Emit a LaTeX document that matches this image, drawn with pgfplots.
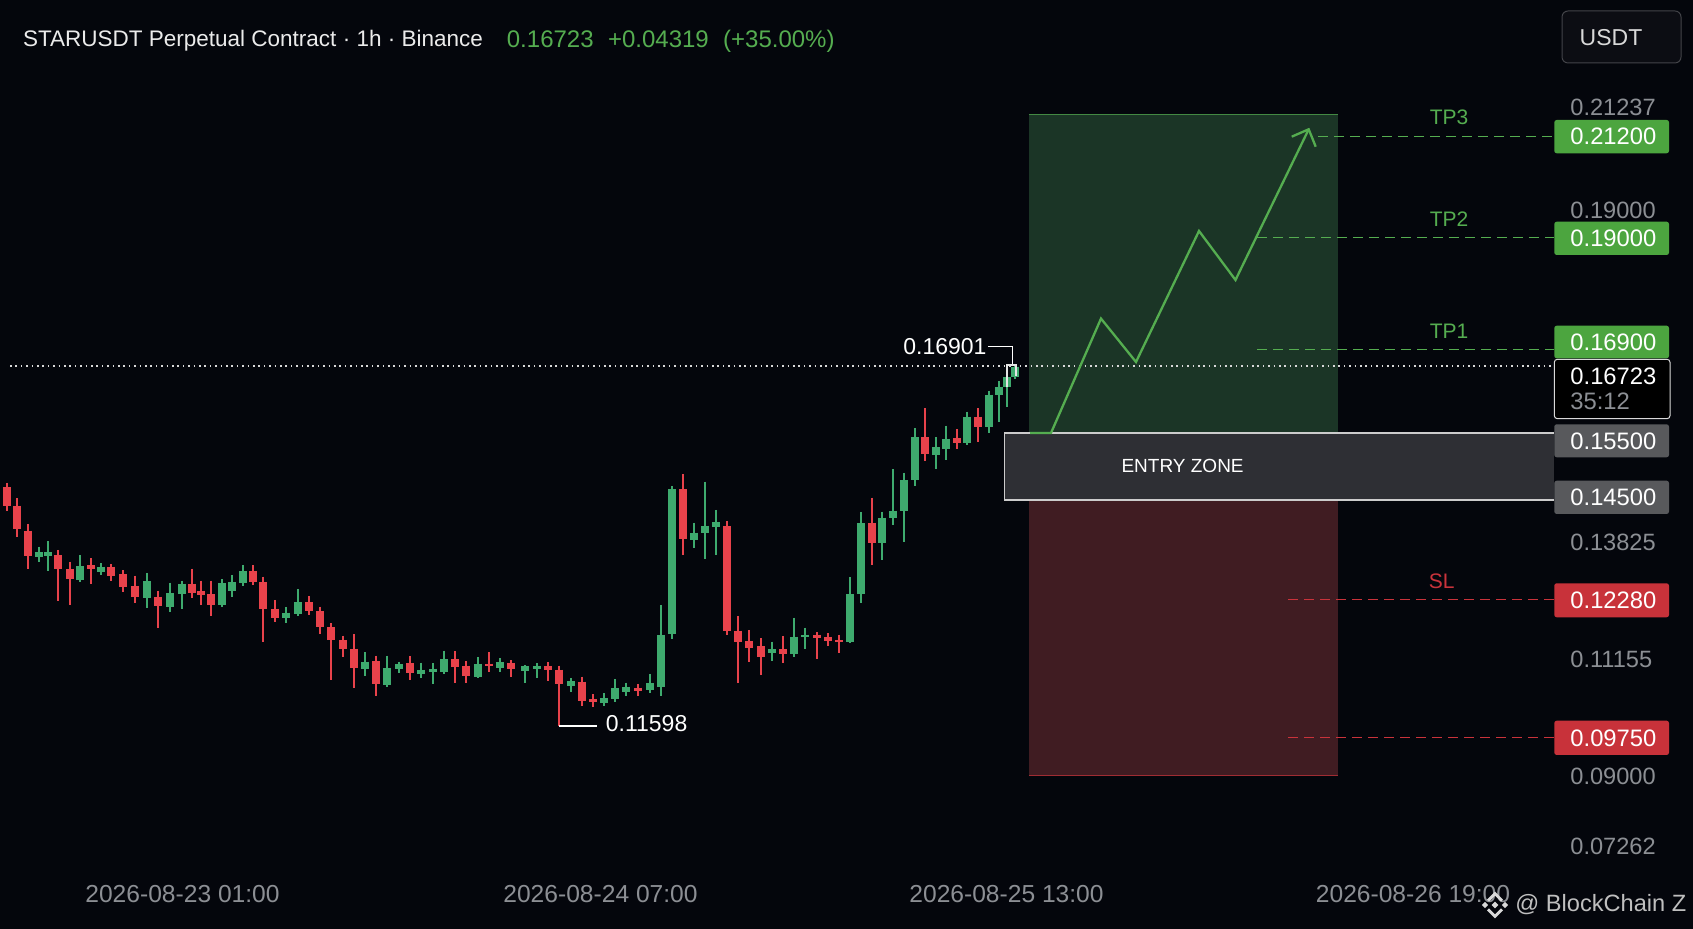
\documentclass[border=0pt]{standalone}
\usepackage{pgfplots}
\usepackage{pgfplotstable}
\usepackage{fontspec}
\setmainfont{Liberation Sans}
\pgfplotsset{compat=1.18}
\definecolor{bg}{HTML}{04060C}
\definecolor{cr}{HTML}{E8424B}
\definecolor{cg}{HTML}{3EAA6E}
\definecolor{lg}{HTML}{55AD50}
\definecolor{lr}{HTML}{C9333B}
\definecolor{tagg}{HTML}{4CA53F}
\definecolor{tagr}{HTML}{C8323A}
\definecolor{tagn}{HTML}{58595C}
\definecolor{gt}{HTML}{8C8F94}
\definecolor{zg}{HTML}{1B3526}
\definecolor{zr}{HTML}{401C22}
\pgfplotstableread{
x h t b l
6.7 0.14347 0.14253 0.13887 0.13787
17.3 0.14033 0.13887 0.13420 0.13267
28.3 0.13520 0.13387 0.12880 0.12627
58.3 0.13000 0.12900 0.12620 0.11987
69.7 0.12767 0.12620 0.12427 0.11900
91 0.12833 0.12693 0.12627 0.12320
111 0.12720 0.12667 0.12487 0.12373
123.3 0.12600 0.12513 0.12267 0.12167
134.7 0.12487 0.12280 0.12060 0.11933
158 0.12187 0.12067 0.11873 0.11433
191.7 0.12627 0.12327 0.12133 0.12033
201.3 0.12387 0.12187 0.12107 0.11893
211.3 0.12387 0.12113 0.11907 0.11687
253 0.12693 0.12580 0.12367 0.12293
263.3 0.12467 0.12360 0.11827 0.11167
274.7 0.12000 0.11827 0.11647 0.11553
309 0.12080 0.11953 0.11787 0.11693
320 0.11867 0.11773 0.11460 0.11313
331 0.11540 0.11453 0.11207 0.10400
342.7 0.11287 0.11200 0.11020 0.10867
353.7 0.11313 0.11027 0.10633 0.10247
376 0.10887 0.10773 0.10327 0.10087
410 0.10880 0.10733 0.10533 0.10393
455 0.10973 0.10813 0.10667 0.10333
466.3 0.10780 0.10687 0.10480 0.10347
488.7 0.10953 0.10727 0.10687 0.10567
511 0.10793 0.10747 0.10613 0.10460
547.7 0.10753 0.10680 0.10600 0.10387
559.3 0.10687 0.10607 0.10313 0.09480
582 0.10467 0.10367 0.09987 0.09880
592.7 0.10113 0.10020 0.09960 0.09853
638 0.10320 0.10247 0.10180 0.10087
683 0.14520 0.14213 0.13213 0.12893
726.7 0.13580 0.13480 0.11380 0.11300
738 0.11680 0.11387 0.11160 0.10347
749.3 0.11400 0.11173 0.11047 0.10760
761 0.11233 0.11073 0.10860 0.10500
783 0.11280 0.11013 0.10920 0.10747
816.7 0.11360 0.11307 0.11247 0.10813
828 0.11333 0.11267 0.11173 0.11080
839 0.11307 0.11193 0.11160 0.10947
871.7 0.14047 0.13547 0.13133 0.12693
925.3 0.15840 0.15253 0.14920 0.14773
956.7 0.15413 0.15240 0.15147 0.15013
978.3 0.15833 0.15667 0.15467 0.15153
}\redT
\pgfplotstableread{
x h t b l
38.7 0.13067 0.12953 0.12867 0.12767
48.3 0.13173 0.12953 0.12880 0.12573
80.3 0.12900 0.12673 0.12407 0.12367
101.3 0.12733 0.12667 0.12567 0.12500
147 0.12540 0.12380 0.12047 0.11833
170 0.12347 0.12140 0.11867 0.11767
181.7 0.12387 0.12327 0.12113 0.11820
221.7 0.12413 0.12333 0.11907 0.11867
232 0.12500 0.12353 0.12187 0.12053
243 0.12700 0.12580 0.12340 0.12280
286 0.11860 0.11747 0.11647 0.11547
297.7 0.12213 0.11953 0.11720 0.11687
365.3 0.10953 0.10767 0.10620 0.10480
387.3 0.10887 0.10647 0.10307 0.10260
398.7 0.10767 0.10720 0.10627 0.10533
421.3 0.10747 0.10607 0.10520 0.10447
432.7 0.10733 0.10627 0.10567 0.10313
444.3 0.10987 0.10813 0.10567 0.10520
477.7 0.10860 0.10727 0.10467 0.10433
499.7 0.10833 0.10753 0.10633 0.10567
525 0.10693 0.10680 0.10587 0.10347
536.7 0.10733 0.10680 0.10613 0.10433
570.7 0.10433 0.10380 0.10280 0.10153
603.7 0.10133 0.10040 0.09947 0.09887
615 0.10420 0.10233 0.10020 0.09967
626.3 0.10347 0.10267 0.10167 0.10080
649.7 0.10520 0.10333 0.10200 0.10147
660.7 0.11900 0.11307 0.10267 0.10080
672 0.14280 0.14213 0.11313 0.11220
694 0.13547 0.13347 0.13207 0.13033
704.7 0.14367 0.13487 0.13340 0.12827
715.7 0.13800 0.13553 0.13467 0.12900
772 0.11167 0.11013 0.10933 0.10773
794 0.11647 0.11267 0.10913 0.10853
805.3 0.11447 0.11307 0.11253 0.11013
850 0.12453 0.12120 0.11167 0.11147
861 0.13760 0.13533 0.12113 0.11933
882.3 0.13767 0.13647 0.13133 0.12800
893 0.14613 0.13787 0.13633 0.13500
904.3 0.14547 0.14400 0.13780 0.13160
915 0.15440 0.15253 0.14400 0.14287
936 0.15253 0.15053 0.14907 0.14613
946.3 0.15487 0.15227 0.15027 0.14800
967.3 0.15767 0.15667 0.15147 0.15093
988.7 0.16187 0.16107 0.15467 0.15347
999.3 0.16380 0.16267 0.16100 0.15567
1007 0.16700 0.16467 0.16267 0.15853
1015.3 0.16700 0.16667 0.16467 0.16420
}\greenT
\newcommand{\fs}[1]{\fontsize{#1}{#1}\selectfont}
\begin{document}
\begin{tikzpicture}
\begin{axis}[
  scale only axis, width=846.5pt, height=464.5pt,
  xmin=0, xmax=1693, ymin=0.0542, ymax=0.24,
  axis background/.style={fill=bg},
  axis line style={draw=none},
  major tick length=0pt, tick style={draw=none},
  scaled y ticks=false,
  yticklabel pos=right,
  ytick={0.21854,0.198,0.13154,0.10814,0.08466,0.07066},
  yticklabels={0.21237,0.19000,0.13825,0.11155,0.09000,0.07262},
  yticklabel style={anchor=west, xshift=-61.5pt, inner sep=0pt, text=gt, font=\fs{11.8}},
  xtick={182.5,600.5,1006.5,1413},
  xticklabels={2026-08-23 01:00,2026-08-24 07:00,2026-08-25 13:00,2026-08-26 19:00},
  xticklabel style={anchor=center, yshift=17.5pt, inner sep=0pt, text=gt, font=\fs{12.3}},
  clip=false,
]
% zones
\addplot[fill=zg, draw=none] coordinates {(1029,0.21714) (1338,0.21714) (1338,0.1534) (1029,0.1534)} -- cycle;
\addplot[draw=lg, line width=0.4pt, opacity=0.7] coordinates {(1029,0.21714) (1338,0.21714)};
\addplot[fill=zr, draw=none] coordinates {(1029,0.1402) (1338,0.1402) (1338,0.08486) (1029,0.08486)} -- cycle;
\addplot[draw=lr, line width=0.4pt, opacity=0.7] coordinates {(1029,0.08486) (1338,0.08486)};
% current price line
\addplot[draw=white!85!black, line width=0.7pt, dash pattern=on 0.8pt off 1.9pt] coordinates {(10,0.1668) (1554,0.1668)};
% wicks
\addplot[draw=cr, line width=0.95pt, quiver={u=0,v=\thisrow{l}-\thisrow{h}}] table[x=x,y=h] {\redT};
\addplot[draw=cg, line width=0.95pt, quiver={u=0,v=\thisrow{l}-\thisrow{h}}] table[x=x,y=h] {\greenT};
% bodies
\addplot[draw=cr, line width=4pt, quiver={u=0,v=\thisrow{b}-\thisrow{t}}] table[x=x,y=t] {\redT};
\addplot[draw=cg, line width=4pt, quiver={u=0,v=\thisrow{b}-\thisrow{t}}] table[x=x,y=t] {\greenT};
% entry zone
\addplot[fill=white, fill opacity=0.17, draw=none] coordinates {(1004.3,0.1534) (1554,0.1534) (1554,0.14) (1004.3,0.14)} -- cycle;
\addplot[draw=white!80!black, line width=0.55pt] coordinates {(1554,0.1534) (1004.3,0.1534) (1004.3,0.14) (1554,0.14)};
% levels
\addplot[draw=lg, line width=0.5pt, dash pattern=on 5pt off 3pt] coordinates {(1318,0.21266) (1554,0.21266)};
\addplot[draw=lg, line width=0.5pt, dash pattern=on 5pt off 3pt] coordinates {(1257,0.1924) (1554,0.1924)};
\addplot[draw=lg, line width=0.5pt, dash pattern=on 5pt off 3pt] coordinates {(1257,0.17) (1554,0.17)};
\addplot[draw=lr, line width=0.5pt, dash pattern=on 5pt off 3pt] coordinates {(1288,0.12) (1554,0.12)};
\addplot[draw=lr, line width=0.5pt, dash pattern=on 5pt off 3pt] coordinates {(1288,0.0924) (1554,0.0924)};
% projected path
\addplot[draw=lg, line width=1.15pt] coordinates {(1030,0.1534) (1051,0.1534) (1101,0.17628) (1136,0.1676) (1199,0.1938) (1235.5,0.184) (1308.7,0.21414)};
\addplot[draw=lg, line width=1.15pt] coordinates {(1291.7,0.21266) (1308.7,0.21414) (1315.7,0.21066)};
% high and low callouts
\addplot[draw=white, line width=0.6pt] coordinates {(988,0.17066) (1012.3,0.17066) (1012.3,0.167)};
\addplot[draw=white!90!black, line width=0.9pt] coordinates {(1006.7,0.1625) (1006.7,0.167) (1016,0.167) (1016,0.1648)};
\addplot[draw=white, line width=0.6pt] coordinates {(559.3,0.0948) (597.3,0.0948)};
\node[anchor=west, inner sep=0pt, text=white, font=\fs{11.5}] at (axis cs:903,0.17066) {0.16901};
\node[anchor=west, inner sep=0pt, text=white, font=\fs{11.5}] at (axis cs:605.5,0.0953) {0.11598};
% tags
\fill[tagg, rounded corners=1.2pt] (axis cs:1554.3,0.216) rectangle (axis cs:1669,0.20934);
\fill[tagg, rounded corners=1.2pt] (axis cs:1554.3,0.19566) rectangle (axis cs:1669,0.189);
\fill[tagg, rounded corners=1.2pt] (axis cs:1554.3,0.17486) rectangle (axis cs:1669,0.16834);
\fill[tagn, rounded corners=1.2pt] (axis cs:1554.3,0.15514) rectangle (axis cs:1669,0.14854);
\fill[tagn, rounded corners=1.2pt] (axis cs:1554.3,0.14386) rectangle (axis cs:1669,0.1372);
\fill[tagr, rounded corners=1.2pt] (axis cs:1554.3,0.12334) rectangle (axis cs:1669,0.11654);
\fill[tagr, rounded corners=1.2pt] (axis cs:1554.3,0.09586) rectangle (axis cs:1669,0.089);
\draw[fill=black, draw=white!85!black, line width=0.5pt, rounded corners=1.5pt] (axis cs:1554.3,0.16814) rectangle (axis cs:1670,0.15626);
\begin{scope}[every node/.style={anchor=west, inner sep=0pt, text=white, font=\fs{11.9}}]
\node at (axis cs:1570,0.21266) {0.21200};
\node at (axis cs:1570,0.19234) {0.19000};
\node at (axis cs:1570,0.1716) {0.16900};
\node at (axis cs:1570,0.1648) {0.16723};
\node[text=gt] at (axis cs:1570,0.15966) {35:12};
\node at (axis cs:1570,0.1518) {0.15500};
\node at (axis cs:1570,0.1406) {0.14500};
\node at (axis cs:1570,0.12) {0.12280};
\node at (axis cs:1570,0.0924) {0.09750};
\end{scope}
\begin{scope}[every node/.style={inner sep=0pt, font=\fs{10.5}}]
\node[text=lg] at (axis cs:1449,0.2166) {TP3};
\node[text=lg] at (axis cs:1449,0.1962) {TP2};
\node[text=lg] at (axis cs:1449,0.1738) {TP1};
\node[text=lr] at (axis cs:1441.7,0.1238) {SL};
\node[text=white, font=\fs{9.5}] at (axis cs:1182.6,0.1469) {ENTRY ZONE};
\end{scope}
% header
\node[anchor=west, inner sep=0pt, text=white!92!black, font=\fs{11.25}] at (axis cs:22.7,0.2318) {STARUSDT Perpetual Contract · 1h · Binance};
\node[anchor=west, inner sep=0pt, text=lg, font=\fs{12}] at (axis cs:506.5,0.2318) {0.16723\hspace{0.6em}+0.04319\hspace{0.6em}(+35.00\%)};
\draw[draw=white!25!bg, fill=white!3!bg, line width=0.5pt, rounded corners=3pt] (axis cs:1562,0.2378) rectangle (axis cs:1681,0.2274);
\node[inner sep=0pt, text=white!85!black, font=\fs{11.5}] at (axis cs:1611,0.2324) {USDT};
% watermark
\begin{scope}[shift={(axis cs:1495,0.059)}, x=1pt, y=1pt]
\fill[white!85!black] (0,1.7)--(1.7,0)--(0,-1.7)--(-1.7,0)--cycle;
\fill[white!85!black] (-5,1.6)--(-3.4,0)--(-5,-1.6)--(-6.6,0)--cycle;
\fill[white!85!black] (5,1.6)--(6.6,0)--(5,-1.6)--(3.4,0)--cycle;
\fill[white!85!black] (0,6.7)--(4,2.7)--(3,1.7)--(0,4.7)--(-3,1.7)--(-4,2.7)--cycle;
\fill[white!85!black] (0,-6.7)--(4,-2.7)--(3,-1.7)--(0,-4.7)--(-3,-1.7)--(-4,-2.7)--cycle;
\end{scope}
\node[anchor=west, inner sep=0pt, text=white!75!black, font=\fs{11.8}] at (axis cs:1515,0.059) {@ BlockChain Z};
\end{axis}
\end{tikzpicture}
\end{document}
